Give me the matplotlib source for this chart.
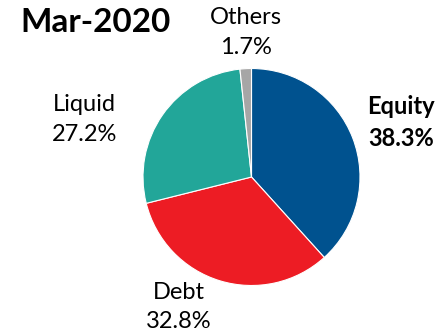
import matplotlib
matplotlib.use('Agg')
import matplotlib.pyplot as plt

plt.rcParams['font.family'] = ['Lato', 'DejaVu Sans']

title_str = 'Mar-2020'
categories = ['Equity', 'Debt', 'Liquid', 'Others']
shares = [38.3, 32.8, 27.2, 1.7]
colors = ['#00528F', '#ED1C24', '#22A699', '#A6A6A6']

# label centres relative to pie (radius = 1)
label_pos = [(1.38, 0.50), (-0.67, -1.20), (-1.54, 0.53), (-0.05, 1.33)]
label_bold = [True, False, False, False]

W, H = 437, 336
fig = plt.figure(figsize=(W/100, H/100), dpi=100)
ax = fig.add_axes([143/W, 50/H, 217/W, 218/H])
ax.pie(shares, colors=colors, startangle=90, counterclock=False,
       wedgeprops=dict(edgecolor='white', linewidth=0.8))
ax.set_xlim(-1, 1)
ax.set_ylim(-1, 1)
ax.set_aspect('equal')
ax.axis('off')

for name, val, (x, y), b in zip(categories, shares, label_pos, label_bold):
    ax.text(x, y, '%s\n%.1f%%' % (name, val), ha='center', va='center',
            fontsize=17, linespacing=1.5,
            fontweight='bold' if b else 'normal', clip_on=False)

fig.text(20/W, 1 - 22/H, title_str, fontsize=24, fontweight='bold',
         ha='left', va='center')

fig.savefig('out.png', dpi=100)
